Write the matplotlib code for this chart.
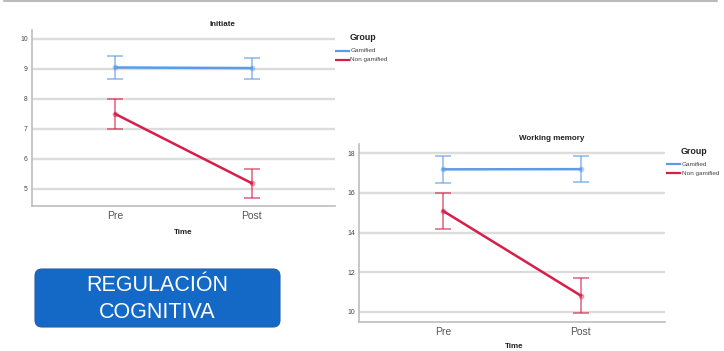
import matplotlib
matplotlib.use("Agg")
import matplotlib.pyplot as plt
from matplotlib.patches import FancyBboxPatch
from matplotlib.lines import Line2D

plt.rcParams['font.family'] = ['Liberation Sans', 'DejaVu Sans']

# ---- data -------------------------------------------------------------
time_labels = ["Pre", "Post"]
group_labels = ["Gamified", "Non gamified"]

initiate_gamified = [9.05, 9.03]
initiate_gamified_lo = [8.67, 8.67]
initiate_gamified_hi = [9.42, 9.38]
initiate_nongam = [7.50, 5.19]
initiate_nongam_lo = [7.00, 4.71]
initiate_nongam_hi = [8.00, 5.66]
initiate_ticks = [5, 6, 7, 8, 9, 10]

wm_gamified = [17.19, 17.20]
wm_gamified_lo = [16.52, 16.53]
wm_gamified_hi = [17.86, 17.87]
wm_nongam = [15.09, 10.81]
wm_nongam_lo = [14.16, 9.92]
wm_nongam_hi = [15.98, 11.72]
wm_ticks = [10, 12, 14, 16, 18]

# ---- styling ----------------------------------------------------------
W, H = 724, 351
BLUE = "#5C9BE5"
RED = "#D81E48"
GRID = "#DCDCDC"
SPINE = "#BDBDBD"

fig = plt.figure(figsize=(W / 100, H / 100), dpi=100)


def px_axes(left, top, right, bottom, **kw):
    return fig.add_axes([left / W, 1 - bottom / H, (right - left) / W,
                         (bottom - top) / H], **kw)


def draw_panel(ax, g, g_lo, g_hi, n, n_lo, n_hi, ticks, ylim):
    x = list(range(len(time_labels)))
    for vals, lo, hi, col in ((g, g_lo, g_hi, BLUE), (n, n_lo, n_hi, RED)):
        yerr = [[v - l for v, l in zip(vals, lo)], [h - v for v, h in zip(vals, hi)]]
        ax.errorbar(x, vals, yerr=yerr, fmt="none", ecolor=col, alpha=0.6,
                    elinewidth=1.3, capsize=5.6, capthick=1.3, zorder=3)
        ax.plot(x, vals, color=col, lw=1.8, zorder=4)
        ax.plot(x, vals, "o", ms=3.4, mfc=col, mec=col, mew=0.8,
                alpha=0.35, zorder=5)
    ax.set_xlim(-0.61, 1.61)
    ax.set_ylim(*ylim)
    ax.set_yticks(ticks)
    ax.set_xticks(x)
    ax.set_xticklabels(time_labels, fontsize=7.5, color="#555555")
    ax.tick_params(axis="y", length=0, pad=3, labelsize=4.9, labelcolor="#444444")
    ax.tick_params(axis="x", length=0, pad=3.5)
    ax.yaxis.grid(True, color=GRID, lw=1.7)
    ax.set_axisbelow(True)
    for s in ("top", "right"):
        ax.spines[s].set_visible(False)
    for s in ("left", "bottom"):
        ax.spines[s].set_color(SPINE)
        ax.spines[s].set_linewidth(1.2)


ax1 = px_axes(32, 30, 335, 206)
draw_panel(ax1, initiate_gamified, initiate_gamified_lo, initiate_gamified_hi,
           initiate_nongam, initiate_nongam_lo, initiate_nongam_hi,
           initiate_ticks, (4.43, 10.3))

ax2 = px_axes(359, 144, 665, 322)
draw_panel(ax2, wm_gamified, wm_gamified_lo, wm_gamified_hi,
           wm_nongam, wm_nongam_lo, wm_nongam_hi,
           wm_ticks, (9.48, 18.47))

# ---- overlay in pixel coordinates for titles, legends and the banner --
ov = fig.add_axes([0, 0, 1, 1], zorder=-1)
ov.set_xlim(0, W)
ov.set_ylim(H, 0)
ov.axis("off")

ov.plot([4, 717], [0.8, 0.8], color="#BBBBBB", lw=1.5, solid_capstyle="round")

for x, y, s in ((222, 24, "Initiate"), (552, 138, "Working memory"),
                (183, 232, "Time"), (514, 347, "Time")):
    ov.text(x, y, s, ha="center", va="center", fontsize=5.8,
            fontweight="bold", color="#222222")


def legend(x_line, y_title, x_text, ys):
    ov.text(x_text, y_title, "Group", ha="left", va="center", fontsize=6.4,
            fontweight="bold", color="#222222")
    for y, lab, col in zip(ys, group_labels, (BLUE, RED)):
        ov.add_line(Line2D([x_line, x_line + 13], [y, y], color=col, lw=1.6))
        ov.text(x_text + 0.5, y, lab, ha="left", va="center", fontsize=4.6,
                color="#444444")


legend(336, 37.7, 350, (51, 60))
legend(667, 152, 681, (164.3, 173.3))

box = FancyBboxPatch((35, 269), 245, 58, boxstyle="round,pad=0,rounding_size=7",
                     fc="#1469C7", ec="#2A5D9F", lw=0.8)
ov.add_patch(box)
ov.text(157.5, 285.5, "REGULACIÓN", ha="center", va="center", fontsize=15.5,
        color="white")
ov.text(157.5, 312, "COGNITIVA", ha="center", va="center", fontsize=15.5,
        color="white")

fig.savefig("out.png", dpi=100)
